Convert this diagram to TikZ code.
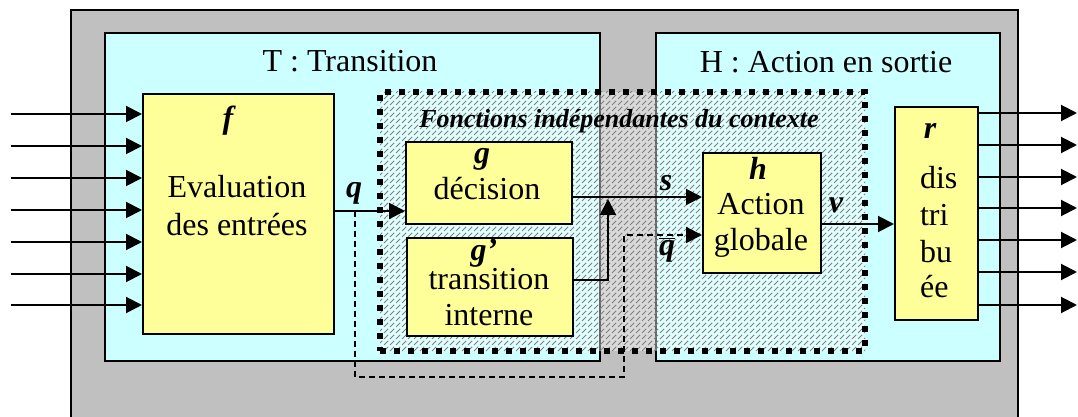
\documentclass[tikz,border=0pt]{standalone}
\usepackage{fontspec}
\setmainfont{Liberation Serif}
\usetikzlibrary{arrows.meta,patterns}
\definecolor{fond}{RGB}{192,192,192}
\definecolor{bleu}{RGB}{204,255,255}
\definecolor{jaune}{RGB}{255,255,153}

\begin{document}
\begin{tikzpicture}[x=0.5pt, y=-0.5pt,
    bloc/.style={draw, line width=0.8pt, inner sep=0pt, anchor=north west},
    fleche/.style={line width=1pt, -{Triangle[length=8pt,width=8pt]}},
    tirets/.style={line width=0.6pt, dash pattern=on 3pt off 2pt},
    lettre/.style={anchor=base, font=\fontsize{16}{18}\selectfont\bfseries\itshape},
    texte/.style={anchor=base, font=\fontsize{16}{18}\selectfont}]
  \useasboundingbox (0,0) rectangle (1078,417);

  % Cadre general et les deux parties
  \node[bloc, fill=fond, line width=1.2pt, minimum width=473.5pt, minimum height=212pt] (cadre) at (70,9) {};
  \node[bloc, fill=bleu, minimum width=247.5pt, minimum height=164pt] (T) at (104,32) {};
  \node[bloc, fill=bleu, minimum width=172pt, minimum height=164pt] (H) at (655,32) {};
  \node[texte] at (350,72) {T : Transition};
  \node[texte] at (826,73) {H : Action en sortie};

  % Zone hachuree (independante du contexte)
  \node[bloc, line width=3pt, dash pattern=on 3pt off 4pt,
        preaction={fill=white, fill opacity=0.4},
        pattern=north east lines, pattern color=gray,
        minimum width=242.5pt, minimum height=129.5pt] (indep) at (377,89) {};
  \node[anchor=base, font=\fontsize{13}{15}\selectfont\bfseries\itshape] at (619,128)
    {Fonctions indépendantes du contexte};

  % Blocs
  \node[bloc, fill=jaune, minimum width=95.5pt, minimum height=120pt] (f) at (142,93) {};
  \node[bloc, fill=jaune, minimum width=83pt, minimum height=41pt] (g) at (405,141) {};
  \node[bloc, fill=jaune, minimum width=83pt, minimum height=49pt] (gp) at (406,237) {};
  \node[bloc, fill=jaune, minimum width=59pt, minimum height=60pt] (h) at (702,152) {};
  \node[bloc, fill=jaune, minimum width=41.5pt, minimum height=106.5pt] (r) at (894,106) {};

  \node[lettre] at (228,129) {f};
  \node[texte] at (237,198) {Evaluation};
  \node[texte] at (237,235) {des entrées};
  \node[lettre] at (482,164) {g};
  \node[texte] at (487,200) {décision};
  \node[lettre] at (484,261) {g'};
  \node[texte] at (489,290) {transition};
  \node[texte] at (489,326) {interne};
  \node[lettre] at (758,180) {h};
  \node[texte] at (761,214) {Action};
  \node[texte] at (761,250) {globale};
  \node[lettre] at (930,139) {r};
  \node[texte, anchor=base west] at (913,189) {dis};
  \node[texte, anchor=base west] at (913,226) {tri};
  \node[texte, anchor=base west] at (913,263) {bu};
  \node[texte, anchor=base west] at (913,298) {ée};

  % Entrees et sorties
  \foreach \y [count=\i] in {114,146,178,210,242,274,305} {
    \coordinate (e\i) at (11,\y);
    \draw[fleche] (e\i) -- (e\i -| f.west);
  }
  \foreach \y [count=\i] in {113,145,177,208,240,272,305} {
    \coordinate (s\i) at (1077,\y);
    \draw[fleche] (s\i -| r.east) -- (s\i);
  }

  % Liaisons internes
  \coordinate (qq) at (355,211);
  \coordinate (ss) at (608,197);
  \coordinate (gg) at (608,280);
  \coordinate (bas) at (624,377);
  \coordinate (qb) at (624,235);
  \coordinate (vv) at (850,224);
  \draw[fleche] (qq -| f.east) -- (qq -| g.west);
  \draw[fleche] (ss -| g.east) -- (ss -| h.west);
  \draw[fleche, shorten >=1pt] (gg -| gp.east) -| (ss);
  \draw[tirets, fleche] (qq) |- (bas) -- (qb) -- (qb -| h.west);
  \draw[fleche] (vv -| h.east) -- (vv -| r.west);

  \node[lettre] at (354,198) {q};
  \node[lettre] at (666,191) {s};
  \node[lettre] at (667,256) {$\overline{\hbox{\bfseries\itshape q}}$};
  \node[lettre] at (836,213) {v};
\end{tikzpicture}
\end{document}
